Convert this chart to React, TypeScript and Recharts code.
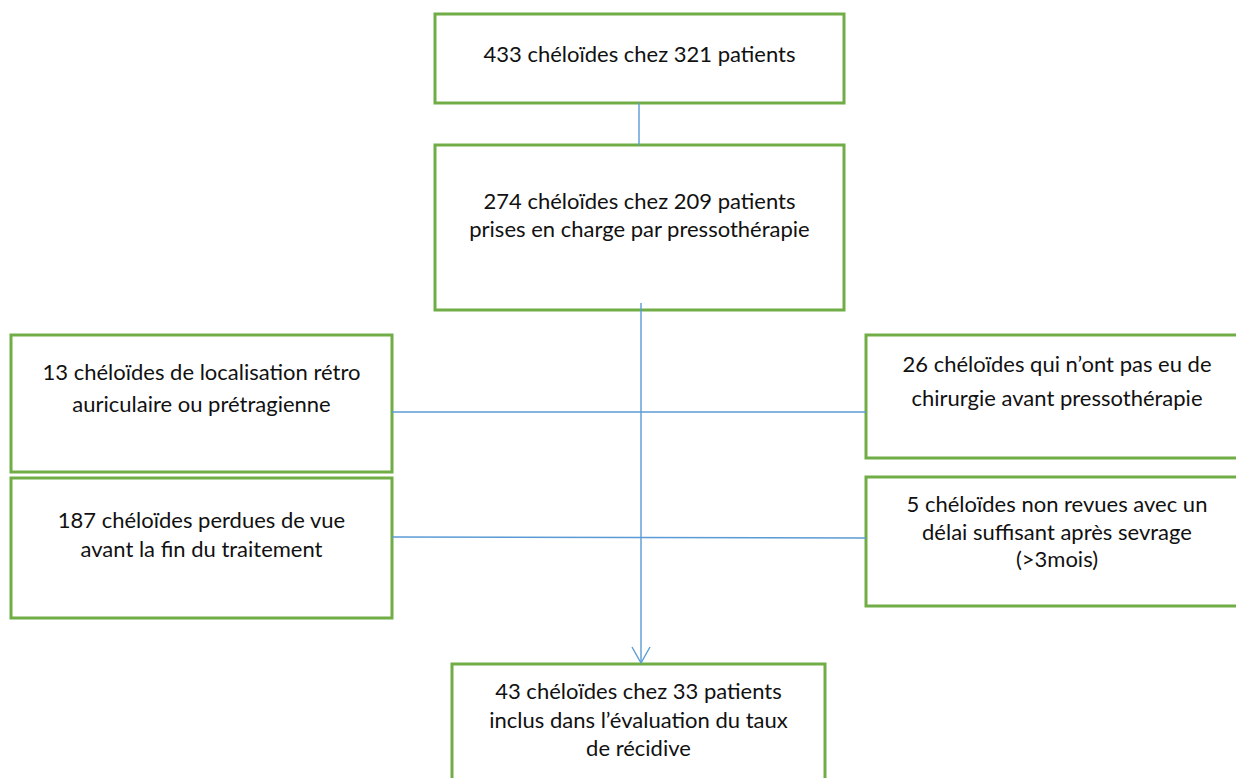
import React from "react";
import { ComposedChart, XAxis, YAxis, Scatter, ReferenceArea, ReferenceLine } from "recharts";

// Flowchart content: text of each box (one entry per line)
const boxLabels: string[][] = [
  ["433 chéloïdes chez 321 patients"],
  ["274 chéloïdes chez 209 patients", "prises en charge par pressothérapie"],
  ["13 chéloïdes de localisation rétro", "auriculaire ou prétragienne"],
  ["26 chéloïdes qui n’ont pas eu de", "chirurgie avant pressothérapie"],
  ["187 chéloïdes perdues de vue", "avant la fin du traitement"],
  ["5 chéloïdes non revues avec un", "délai suffisant après sevrage", "(>3mois)"],
  ["43 chéloïdes chez 33 patients", "inclus dans l’évaluation du taux", "de récidive"],
];

// Box frames in page units (x1, x2, y1, y2)
const boxX1 = [435, 435, 11, 866, 11, 866, 452];
const boxX2 = [844, 844, 392, 1250, 392, 1250, 825];
const boxY1 = [14, 145, 335, 335, 478, 477, 664];
const boxY2 = [103, 310, 472, 458, 618, 606, 800];
// Horizontal centre of the text in each box
const textCenterX = [639.5, 639.5, 201.5, 1057, 201.5, 1057, 638.5];
// Baseline of each text line
const lineBaselines: number[][] = [
  [62],
  [209, 237],
  [380, 412],
  [372, 406],
  [528, 557],
  [512, 540, 567],
  [699, 728, 756],
];

// Connectors
const connectors = [
  [{ x: 639, y: 103 }, { x: 639, y: 145 }],
  [{ x: 641, y: 303 }, { x: 641, y: 663 }],
  [{ x: 392, y: 412 }, { x: 866, y: 412 }],
  [{ x: 392, y: 537 }, { x: 866, y: 538 }],
  [{ x: 632, y: 647 }, { x: 641, y: 663 }],
  [{ x: 650, y: 647 }, { x: 641, y: 663 }],
];

const textPoints = boxLabels.flatMap((lines, i) =>
  lines.map((t, j) => ({ x: textCenterX[i], y: lineBaselines[i][j], text: t }))
);

const GREEN = "#70AD47";
const BLUE = "#5B9BD5";

const TextShape = (props: any) => {
  const { cx, cy, payload } = props;
  return (
    <text x={cx} y={cy} textAnchor="middle" fontFamily="Lato, 'Open Sans', sans-serif" fontSize={22} fill="#111">
      {payload.text}
    </text>
  );
};

export default function App() {
  return (
    <div style={{ position: "absolute", left: 0, top: 0, width: 1236, height: 778, background: "#fff" }}>
      <ComposedChart width={1236} height={778} margin={{ top: 0, right: 0, bottom: 0, left: 0 }} data={textPoints}>
        <XAxis type="number" dataKey="x" domain={[0, 1236]} hide allowDataOverflow />
        <YAxis type="number" dataKey="y" domain={[0, 778]} reversed hide allowDataOverflow />
        {boxLabels.map((_, i) => (
          <ReferenceArea
            key={"b" + i}
            x1={boxX1[i]}
            x2={boxX2[i]}
            y1={boxY1[i]}
            y2={boxY2[i]}
            fill="none"
            stroke={GREEN}
            strokeWidth={3}
            ifOverflow="hidden"
          />
        ))}
        {connectors.map((seg, i) => (
          <ReferenceLine key={"c" + i} segment={seg} stroke={BLUE} strokeWidth={1.4} ifOverflow="visible" />
        ))}
        <Scatter data={textPoints} dataKey="y" isAnimationActive={false} shape={TextShape} />
      </ComposedChart>
    </div>
  );
}
